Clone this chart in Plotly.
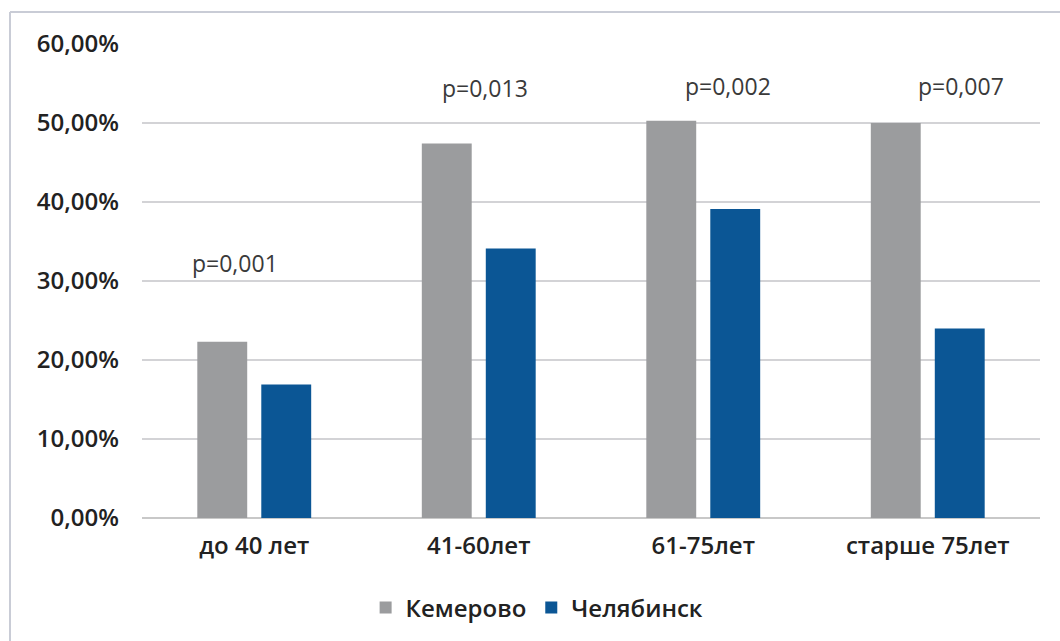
import plotly.graph_objects as go

categories = ["до 40 лет", "41-60лет", "61-75лет", "старше 75лет"]
kemerovo = [22.3, 47.4, 50.3, 50.0]
chelyabinsk = [16.9, 34.1, 39.1, 24.0]
tick_vals = [0, 10, 20, 30, 40, 50, 60]
tick_text = ["0,00%", "10,00%", "20,00%", "30,00%", "40,00%", "50,00%", "60,00%"]
p_labels = ["p=0,001", "p=0,013", "p=0,002", "p=0,007"]
p_x = [-0.085, 1.03, 2.11, 3.15]
p_y = [32.3, 54.4, 54.7, 54.7]

FONT = "Open Sans"

fig = go.Figure()
fig.add_trace(go.Bar(name="Кемерово", x=list(range(4)), y=kemerovo,
                     marker=dict(color="#9b9c9e", line=dict(width=0))))
fig.add_trace(go.Bar(name="Челябинск", x=list(range(4)), y=chelyabinsk,
                     marker=dict(color="#0b5695", line=dict(width=0))))

for t, xx, yy in zip(p_labels, p_x, p_y):
    fig.add_annotation(x=xx, y=yy, xref="x", yref="y", text=t, showarrow=False,
                       font=dict(family=FONT, size=23, color="#3a3a3a"))

# outer frame
fig.add_shape(type="line", xref="paper", yref="paper",
              x0=(10 - 142) / 898, x1=1.2, y0=(519 - 12) / 475, y1=(519 - 12) / 475,
              line=dict(color="#c9ccd6", width=2))
fig.add_shape(type="line", xref="paper", yref="paper",
              x0=(10 - 142) / 898, x1=(10 - 142) / 898, y0=(519 - 12) / 475, y1=-0.4,
              line=dict(color="#c9ccd6", width=2))

fig.update_layout(
    width=1060, height=641,
    margin=dict(l=142, r=20, t=44, b=122),
    paper_bgcolor="white", plot_bgcolor="white",
    barmode="group", bargap=0.43, bargroupgap=0.22,
    font=dict(family=FONT, color="#222222"),
    showlegend=True,
    legend=dict(orientation="h", x=0.44, xanchor="center", y=-0.187, yanchor="middle",
                font=dict(family=FONT, size=24, color="#222222", weight=600),
                itemwidth=30, traceorder="normal"),
    xaxis=dict(tickmode="array", tickvals=list(range(4)), ticktext=categories,
               range=[-0.5, 3.5], showgrid=False, zeroline=False,
               showline=False, ticks="", ticklabelstandoff=11,
               tickfont=dict(family=FONT, size=24, color="#222222", weight=600)),
    yaxis=dict(range=[0, 60], tickmode="array", tickvals=tick_vals, ticktext=tick_text,
               showgrid=True, gridcolor="#d3d3d6", gridwidth=1.5,
               zeroline=True, zerolinecolor="#c8c8c8", zerolinewidth=1.5,
               showline=False, ticks="", ticklabelstandoff=22,
               tickfont=dict(family=FONT, size=24, color="#222222", weight=600)),
)

fig.write_html("out.html")
